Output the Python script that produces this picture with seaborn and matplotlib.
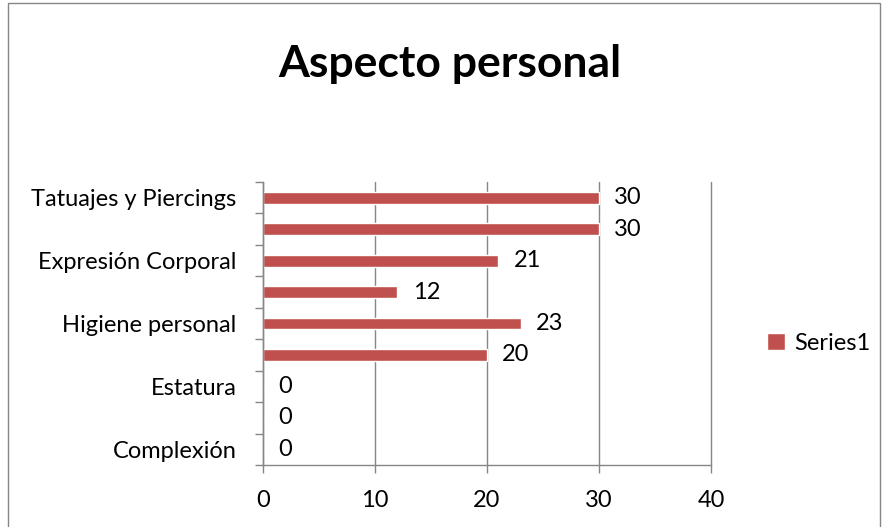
import numpy as np
import pandas as pd
import matplotlib
matplotlib.use("Agg")
import matplotlib.pyplot as plt
import seaborn as sns
from matplotlib.patches import Patch, Rectangle

# data, top to bottom as shown in the chart
categories = ["Tatuajes y Piercings", "Categoría 8", "Expresión Corporal", "Categoría 6",
              "Higiene personal", "Categoría 4", "Estatura", "Categoría 2", "Complexión"]
tick_labels = ["Tatuajes y Piercings", "", "Expresión Corporal", "",
               "Higiene personal", "", "Estatura", "", "Complexión"]
values = [30, 30, 21, 12, 23, 20, 0, 0, 0]
x_ticks = [0, 10, 20, 30, 40]

BAR = "#C0504D"
GRID = "#868686"
FS = 17

sns.set_theme(style="white")
plt.rcParams["font.family"] = ["Lato", "DejaVu Sans"]
plt.rcParams["text.color"] = "black"
plt.rcParams["xtick.color"] = "black"
plt.rcParams["ytick.color"] = "black"

df = pd.DataFrame({"cat": categories, "val": values})

fig = plt.figure(figsize=(8.84, 5.27), dpi=100)
ax = fig.add_axes([263 / 884, 62 / 527, 448 / 884, 283 / 527])

sns.barplot(data=df, x="val", y="cat", order=categories, color=BAR,
            width=0.38, saturation=1, ax=ax, orient="h")

ax.set_xlim(0, 40)
ax.set_ylim(len(categories) - 0.5, -0.5)
ax.set_xticks(x_ticks)
ax.set_xticklabels([str(t) for t in x_ticks], fontsize=FS)
ax.set_yticks(range(len(categories)))
ax.set_yticklabels(tick_labels, fontsize=FS)
ax.set_yticks(np.arange(-0.5, len(categories), 1), minor=True)
ax.tick_params(axis="y", which="major", length=0, pad=19, labelcolor="black")
ax.tick_params(axis="y", which="minor", length=6, width=1, color=GRID, left=True)
ax.tick_params(axis="x", which="major", length=6, width=1, color=GRID, bottom=True,
               pad=12, labelcolor="black")
ax.set_xlabel("")
ax.set_ylabel("")

ax.grid(axis="x", color=GRID, linewidth=1)
for gl in ax.get_xgridlines():
    gl.set_clip_on(False)
ax.set_axisbelow(True)
for s in ["top", "right"]:
    ax.spines[s].set_visible(False)
for s in ["left", "bottom"]:
    ax.spines[s].set_color(GRID)
    ax.spines[s].set_linewidth(1)

for c in ax.containers:
    ax.bar_label(c, labels=[str(v) for v in values], padding=11, fontsize=FS, color="black")

fig.text(0.509, 0.878, "Aspecto personal", ha="center", va="center",
         fontsize=32, fontweight="bold", color="black")

fig.legend(handles=[Patch(facecolor=BAR, label="Series1")], loc="center left",
           bbox_to_anchor=(767 / 884, 1 - 343 / 527), frameon=False, fontsize=FS,
           handlelength=0.75, handleheight=0.75, handletextpad=0.4,
           borderpad=0, borderaxespad=0)

fig.patches.append(Rectangle((8 / 884, -0.05), 872 / 884, 1.045, transform=fig.transFigure,
                             fill=False, edgecolor=GRID, linewidth=1))

fig.savefig("out.png", dpi=100)
